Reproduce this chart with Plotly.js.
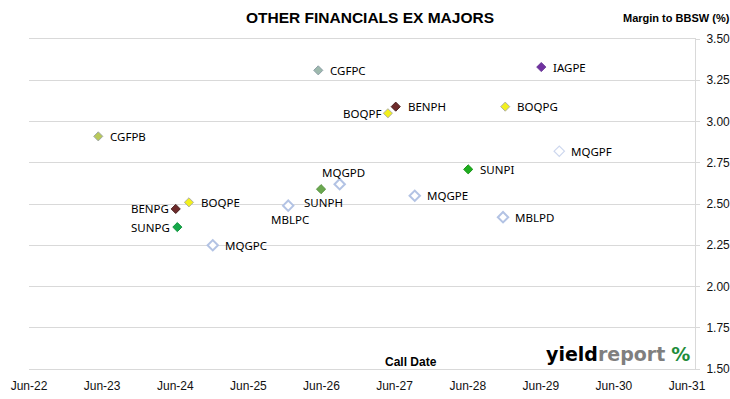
<!DOCTYPE html>
<html>
<head>
<meta charset="utf-8">
<script src="https://cdn.plot.ly/plotly-3.0.1.min.js"></script>
<style>html,body{margin:0;padding:0;background:#fff;}#chart{width:730px;height:399px;}</style>
</head>
<body>
<div id="chart"></div>
<script>
// Data
const bonds = ['CGFPB','BENPG','SUNPG','BOQPE','MQGPC','MBLPC','SUNPH','MQGPD','CGFPC','BOQPF','BENPH','MQGPE','SUNPI','MBLPD','BOQPG','IAGPE','MQGPF'];
const callDates = ['2023-05-13','2024-06-03','2024-06-11','2024-08-08','2024-12-05','2025-12-17','2026-05-30','2026-08-31','2026-05-16','2027-04-29','2027-06-07','2027-09-10','2028-06-03','2028-11-24','2028-12-05','2029-06-03','2029-09-01'];
const margins = [2.91,2.47,2.36,2.51,2.25,2.49,2.59,2.62,3.31,3.05,3.09,2.55,2.71,2.42,3.09,3.33,2.82];
const xTickVals = ['2022-06-01','2023-06-01','2024-06-01','2025-06-01','2026-06-01','2027-06-01','2028-06-01','2029-06-01','2030-06-01','2031-06-01'];
const xTickText = ['Jun-22','Jun-23','Jun-24','Jun-25','Jun-26','Jun-27','Jun-28','Jun-29','Jun-30','Jun-31'];

// Styles (kept separate from the data)
const fillColors = ['#b9c95a','#6e2b2b','#16a84a','#f2f01e','#ffffff','#ffffff','#6aa84f','#ffffff','#9db9ad','#f2f01e','#6e2b2b','#ffffff','#1fae1f','#ffffff','#f2f01e','#7030a0','#ffffff'];
const lineColors = ['#a0a8a8','#4a2020','#12963f','#b0b0a0','#b3c3e4','#b3c3e4','#5a9443','#b3c3e4','#8fa0a8','#b0b0a0','#4a2020','#b3c3e4','#1a961a','#b3c3e4','#b0b0a0','#6a3a96','#cdd7ee'];
const lineWidths = [1,1,1,1,2,2,1,2,1,1,1,2,1,2,1,1,1.2];
const markerSizes = [7,7,7,7,8,8,7,8,7,7,7,8,7,8,7,7,8];
const labelPos = ['r','l','l','r','r','b','b','t','r','l','r','r','r','r','r','r','r'];

const trace = {
  type: 'scatter', mode: 'markers',
  x: callDates, y: margins, text: bonds, hoverinfo: 'text',
  marker: {symbol: 'diamond', size: markerSizes, color: fillColors, opacity: 1,
           line: {color: lineColors, width: lineWidths}},
  cliponaxis: false
};

const labelFont = {family: 'Noto Sans, Open Sans, sans-serif', size: 11.5, color: '#000'};
const labelAnns = bonds.map((b, i) => {
  const p = labelPos[i];
  const a = {x: callDates[i], y: margins[i], xref: 'x', yref: 'y', text: b, showarrow: false, font: labelFont};
  if (p === 'r') { a.xanchor = 'left'; a.xshift = 10; a.yanchor = 'middle'; }
  else if (p === 'l') { a.xanchor = 'right'; a.xshift = -5; a.yanchor = 'middle'; }
  else if (p === 'b') { a.xanchor = 'center'; a.yanchor = 'top'; a.yshift = -4; a.xshift = 2; }
  else { a.xanchor = 'center'; a.yanchor = 'bottom'; a.yshift = 2; a.xshift = 4; }
  return a;
});

const otherAnns = [
  {xref: 'paper', yref: 'paper', x: 1.055, y: 1.0, yshift: 21, xanchor: 'right', yanchor: 'middle',
   text: '<b>Margin to BBSW (%)</b>', showarrow: false,
   font: {family: 'Liberation Sans Narrow, Arial Narrow, sans-serif', size: 11, color: '#000'}},
  {xref: 'paper', yref: 'paper', x: (411 - 29) / 666, y: 0, yshift: 7, xanchor: 'center', yanchor: 'middle',
   text: '<b>Call Date</b>', showarrow: false,
   font: {family: 'Liberation Sans Narrow, Arial Narrow, sans-serif', size: 12, color: '#000'}},
  {xref: 'paper', yref: 'paper', x: (544 - 29) / 666, y: 0, yshift: 15, xanchor: 'left', yanchor: 'middle',
   text: '<b>yield</b><b><span style="color:#7f7f7f">report</span></b> <b><span style="color:#1e8c3a">%</span></b>',
   showarrow: false,
   font: {family: 'DejaVu Sans, sans-serif', size: 19, color: '#000'}}
];

const layout = {
  width: 730, height: 399,
  margin: {l: 29, r: 35, t: 39, b: 30},
  paper_bgcolor: '#ffffff', plot_bgcolor: '#ffffff',
  showlegend: false,
  title: {text: '<b>OTHER FINANCIALS EX MAJORS</b>', x: 370 / 730, xref: 'container', xanchor: 'center',
          y: 1 - 18 / 399, yref: 'container', yanchor: 'middle',
          font: {family: 'Liberation Sans Narrow, Arial Narrow, sans-serif', size: 15.5, color: '#000'}},
  xaxis: {type: 'date', range: ['2022-06-01', '2031-07-11'],
          tickvals: xTickVals, ticktext: xTickText, showgrid: false, zeroline: false,
          showline: true, mirror: true, linecolor: '#d9d9d9', linewidth: 1,
          ticks: '', ticklabelstandoff: 6,
          tickfont: {family: 'Liberation Sans Narrow, Arial Narrow, sans-serif', size: 12, color: '#111'}},
  yaxis: {side: 'right', range: [1.5, 3.5], dtick: 0.25, tick0: 1.5, tickformat: '.2f',
          showgrid: true, gridcolor: '#d9d9d9', gridwidth: 1, zeroline: false,
          showline: true, linecolor: '#d9d9d9', linewidth: 1,
          ticks: 'outside', ticklen: 4, tickcolor: '#d9d9d9', ticklabelstandoff: 4,
          tickfont: {family: 'Liberation Sans Narrow, Arial Narrow, sans-serif', size: 12, color: '#111'}},
  annotations: labelAnns.concat(otherAnns)
};

Plotly.newPlot('chart', [trace], layout, {displayModeBar: false, staticPlot: true});
</script>
</body>
</html>
